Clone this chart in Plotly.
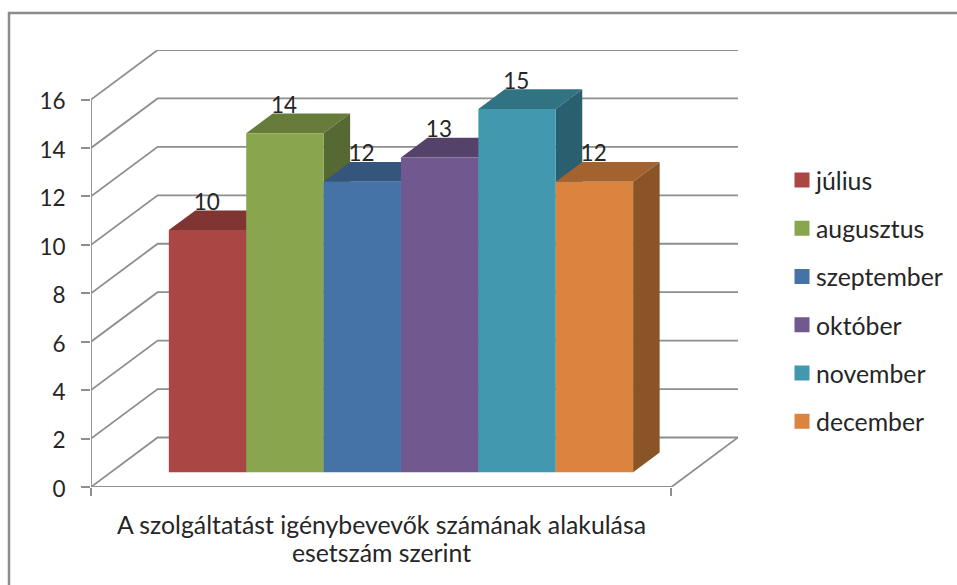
import plotly.graph_objects as go

months = ["július", "augusztus", "szeptember", "október", "november", "december"]
values = [10, 14, 12, 13, 15, 12]
front_colors = ["#AA4643", "#89A54E", "#4572A7", "#71588F", "#4198AF", "#DB843D"]
top_colors = ["#803533", "#677C3B", "#34567D", "#55426B", "#317283", "#A4632E"]
side_colors = ["#6C2D2B", "#576932", "#2C496A", "#48385B", "#295F6F", "#8B5427"]
y_ticks = [0, 2, 4, 6, 8, 10, 12, 14, 16]
axis_title_lines = ["A szolgáltatást igénybevevők számának alakulása", "esetszám szerint"]

W, H = 957, 585
L, R, T, B = 91, 738, 50, 487      # plot-area edges
CAT_SPAN = 7.5                     # 6 columns + 150 % gap
DEPTH_X, DEPTH_Y = 0.861, 2.045    # oblique shift of the full floor depth
D0, D1 = 0.297, 0.695              # bars' front and rear depth
GAP = 0.75
GRID = "#8E8E8E"
TEXT = "#262626"
FONT = "Lato"
NUM_SIZE = 22.5
TXT_SIZE = 24.8


def proj(x, y, d=0.0):
    return x + d * DEPTH_X, y + d * DEPTH_Y


def poly(points):
    xs, ys = zip(*[proj(*p) for p in points])
    return list(xs) + [xs[0]], list(ys) + [ys[0]]


fig = go.Figure()

# walls: gridlines
gx, gy = [], []
for v in y_ticks:
    for p in [(0, v, 0), (0, v, 1), (CAT_SPAN, v, 1)]:
        a, b = proj(*p)
        gx.append(a)
        gy.append(b)
    gx.append(None)
    gy.append(None)
# floor edges and the value axis
for seg in [[(0, 0, 0), (CAT_SPAN, 0, 0), (CAT_SPAN, 0, 1)], [(0, 0, 0), (0, 16, 0)]]:
    for p in seg:
        a, b = proj(*p)
        gx.append(a)
        gy.append(b)
    gx.append(None)
    gy.append(None)
fig.add_trace(go.Scatter(x=gx, y=gy, mode="lines", line=dict(color=GRID, width=1.8),
                         showlegend=False, hoverinfo="skip", cliponaxis=False))

# bars
for i, (m, v) in enumerate(zip(months, values)):
    x0, x1 = GAP + i, GAP + i + 1
    faces = [
        (top_colors[i], [(x0, v, D0), (x1, v, D0), (x1, v, D1), (x0, v, D1)]),
        (side_colors[i], [(x1, 0, D0), (x1, 0, D1), (x1, v, D1), (x1, v, D0)]),
        (front_colors[i], [(x0, 0, D0), (x1, 0, D0), (x1, v, D0), (x0, v, D0)]),
    ]
    for col, pts in faces:
        px_, py_ = poly(pts)
        fig.add_trace(go.Scatter(x=px_, y=py_, mode="lines", fill="toself", fillcolor=col,
                                 line=dict(width=0), showlegend=False, name=m,
                                 hoverinfo="skip", legendgroup=m))

# value labels (on top of every bar)
lx, ly = [], []
for i, v in enumerate(values):
    a, b = proj(GAP + i + 0.5, v, D0)
    lx.append(a - 0.01)
    ly.append(b + 1.08)
fig.add_trace(go.Scatter(x=lx, y=ly, mode="text", text=[str(v) for v in values],
                         textposition="middle center",
                         textfont=dict(family=FONT, size=NUM_SIZE, color=TEXT),
                         showlegend=False, hoverinfo="skip", cliponaxis=False))

# legend entries
for m, c in zip(months, front_colors):
    fig.add_trace(go.Scatter(x=[None], y=[None], mode="markers", name=m, legendgroup=m,
                             marker=dict(symbol="square", size=15, color=c)))

fig.update_layout(
    width=W, height=H,
    margin=dict(l=L, r=W - R, t=T, b=H - B, autoexpand=False),
    paper_bgcolor="white", plot_bgcolor="white",
    font=dict(family=FONT, size=TXT_SIZE, color=TEXT),
    xaxis=dict(range=[0, CAT_SPAN + DEPTH_X], tickvals=[0, CAT_SPAN], ticktext=["", ""],
               ticks="outside", ticklen=8, tickwidth=1.8, tickcolor=GRID,
               showgrid=False, zeroline=False, showline=False),
    yaxis=dict(range=[0, 16 + DEPTH_Y], tickvals=y_ticks, ticks="outside", ticklen=9,
               tickwidth=1.8, tickcolor=GRID, ticklabelstandoff=11, ticklabelshift=2,
               showgrid=False, zeroline=False, showline=False,
               tickfont=dict(family=FONT, size=NUM_SIZE, color=TEXT)),
    legend=dict(x=(776 - L) / (R - L), y=(B - 301) / (B - T), yanchor="middle",
                font=dict(family=FONT, size=TXT_SIZE, color=TEXT), tracegroupgap=13,
                bgcolor="rgba(0,0,0,0)"),
    shapes=[dict(type="rect", xref="paper", yref="paper",
                 x0=(9 - L) / (R - L), x1=(990 - L) / (R - L),
                 y0=(B - 600) / (B - T), y1=(B - 13) / (B - T),
                 line=dict(color="#8C8C8C", width=2.5), layer="below")],
    annotations=[
        dict(x=CAT_SPAN / 2, xref="x", y=(B - py) / (B - T), yref="paper", yanchor="middle",
             text=line, showarrow=False, align="center",
             font=dict(family=FONT, size=TXT_SIZE, color=TEXT))
        for line, py in zip(axis_title_lines, [524, 552])
    ],
)

fig.write_html(
    "out.html",
    config={"displayModeBar": False},
    post_script="document.body.style.margin='0';"
    "document.querySelectorAll('.legend .legendsymbols').forEach(g=>g.setAttribute('transform','translate(6,0)'));",
)
